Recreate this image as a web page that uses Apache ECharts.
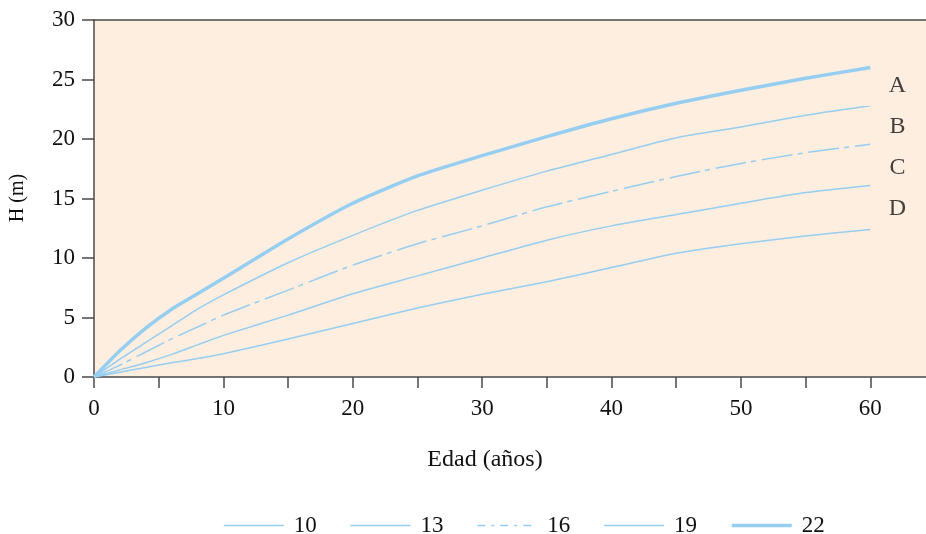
<!DOCTYPE html>
<html>
<head>
<meta charset="utf-8">
<script src="https://cdn.jsdelivr.net/npm/echarts@6/dist/echarts.min.js"></script>
<style>html,body{margin:0;padding:0;background:#fff}#c{width:926px;height:534px}</style>
</head>
<body>
<div id="c"></div>
<script>
const ages = [0, 2, 4, 6, 8, 10, 15, 20, 25, 30, 35, 40, 45, 50, 55, 60];
const h10 = [0, 0.4, 0.8, 1.2, 1.55, 1.95, 3.2, 4.5, 5.8, 6.95, 8.0, 9.2, 10.4, 11.2, 11.85, 12.4];
const h13 = [0, 0.6, 1.2, 1.9, 2.7, 3.5, 5.2, 7.0, 8.5, 10.0, 11.5, 12.7, 13.65, 14.6, 15.5, 16.1];
const h16 = [0, 1.0, 2.1, 3.2, 4.2, 5.2, 7.3, 9.4, 11.2, 12.7, 14.3, 15.6, 16.85, 17.95, 18.85, 19.55];
const h19 = [0, 1.5, 2.9, 4.3, 5.7, 6.9, 9.6, 11.9, 14.0, 15.7, 17.3, 18.7, 20.1, 21.0, 22.0, 22.8];
const h22 = [0, 2.2, 4.1, 5.7, 7.0, 8.3, 11.6, 14.6, 16.9, 18.6, 20.2, 21.7, 23.0, 24.1, 25.1, 26.0];
const seriesNames = ['10', '13', '16', '19', '22'];
const classLabels = ['A', 'B', 'C', 'D'];
const classLabelX = [62.1, 62.1, 62.1, 62.1];
const classLabelY = [24.5, 21.05, 17.6, 14.16];
const xTicks = [0, 10, 20, 30, 40, 50, 60];
const yTicks = [0, 5, 10, 15, 20, 25, 30];

const FONT = 'Liberation Serif';
const BLUE = '#96CEF1';
const pairs = (v) => ages.map((a, i) => [a, v[i]]);
const allVals = [h10, h13, h16, h19, h22];
const styles = [
  {width: 1.5, type: 'solid'},
  {width: 1.5, type: 'solid'},
  {width: 1.5, type: [31, 5, 5, 6]},
  {width: 1.5, type: 'solid'},
  {width: 3.5, type: 'solid'}
];

const chart = echarts.init(document.getElementById('c'), null, {renderer: 'canvas'});
const series = seriesNames.map((n, i) => ({
  name: n, type: 'line', data: pairs(allVals[i]), symbol: 'none', smooth: 0.2,
  xAxisIndex: 0, yAxisIndex: 0,
  lineStyle: {color: BLUE, width: styles[i].width, type: styles[i].type},
  itemStyle: {color: BLUE}, silent: true
}));
series.push({
  name: 'labels', type: 'scatter', symbolSize: 1, itemStyle: {color: 'rgba(0,0,0,0)'},
  data: classLabels.map((l, i) => ({value: [classLabelX[i], classLabelY[i]], name: l})),
  label: {show: true, position: 'inside', formatter: (p) => p.name, color: '#111', fontFamily: FONT, fontSize: 24},
  silent: true
});

const legendStyles = [
  {width: 1.5, type: 'solid'},
  {width: 1.5, type: 'solid'},
  {width: 1.5, type: [8, 6, 3, 6]},
  {width: 1.5, type: 'solid'},
  {width: 3.5, type: 'solid'}
];

chart.setOption({
  animation: false,
  backgroundColor: '#fff',
  grid: {left: 94, right: -9, top: 20, bottom: 157, show: true, backgroundColor: '#FDEEE0', borderWidth: 0,
    outerBoundsMode: 'none', containLabel: false},
  xAxis: [{
    type: 'value', min: 0, max: 65, interval: 5,
    axisLine: {show: true, lineStyle: {color: '#4a4a4a', width: 1.5}},
    axisTick: {show: true, length: 11, lineStyle: {color: '#4a4a4a', width: 1.5}},
    axisLabel: {margin: 20, color: '#111', fontFamily: FONT, fontSize: 23,
      formatter: (v) => xTicks.includes(v) ? String(v) : ''},
    splitLine: {show: false}
  }, {
    type: 'value', min: 0, max: 65, position: 'top',
    axisLine: {show: true, onZero: false, lineStyle: {color: '#4a4a4a', width: 1.5}},
    axisTick: {show: false}, axisLabel: {show: false}, splitLine: {show: false}
  }],
  yAxis: {
    type: 'value', min: 0, max: 30, interval: 5,
    axisLine: {show: true, lineStyle: {color: '#4a4a4a', width: 1.5}},
    axisTick: {show: true, length: 12, lineStyle: {color: '#4a4a4a', width: 1.5}},
    axisLabel: {margin: 19, color: '#111', fontFamily: FONT, fontSize: 23,
      formatter: (v) => yTicks.includes(v) ? String(v) : ''},
    splitLine: {show: false}
  },
  legend: {
    data: seriesNames.map((n, i) => ({name: n, lineStyle: {color: BLUE, width: legendStyles[i].width, type: legendStyles[i].type}})),
    left: 218, top: 509, itemWidth: 60, itemHeight: 14, itemGap: 33,
    itemStyle: {opacity: 0},
    textStyle: {color: '#111', fontFamily: FONT, fontSize: 23, padding: [0, 0, 0, 5]}, selectedMode: false
  },
  graphic: [
    {type: 'text', x: 18, y: 198, rotation: Math.PI / 2,
      style: {text: 'H (m)', fill: '#111', font: '20px "Liberation Serif"', align: 'center', verticalAlign: 'middle'}},
    {type: 'text', x: 485, y: 460,
      style: {text: 'Edad (años)', fill: '#111', font: '24px "Liberation Serif"', align: 'center', verticalAlign: 'middle'}}
  ],
  series: series
});
</script>
</body>
</html>
